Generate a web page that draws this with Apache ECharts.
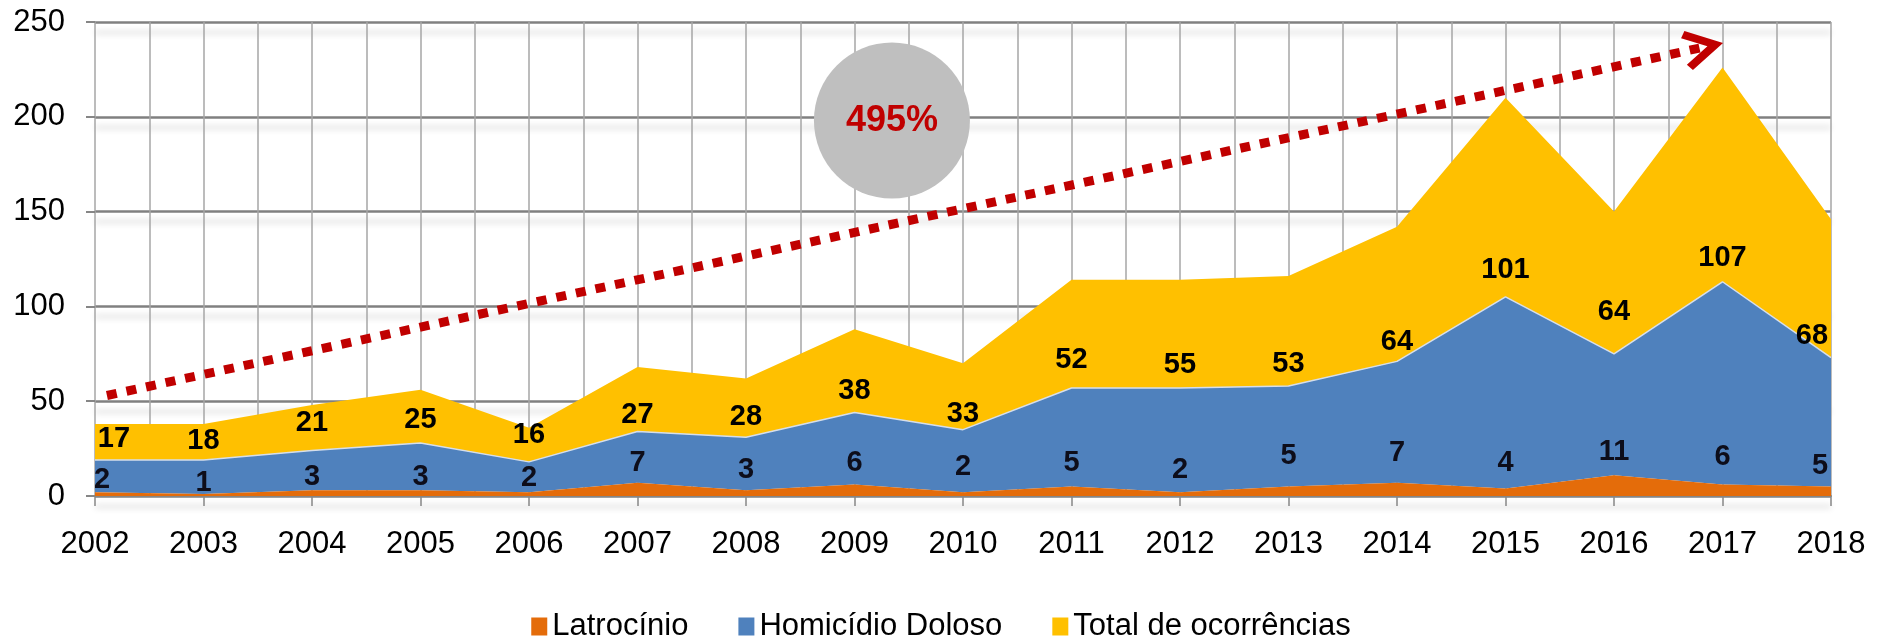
<!DOCTYPE html>
<html>
<head>
<meta charset="utf-8">
<script src="https://cdn.jsdelivr.net/npm/echarts@6/dist/echarts.min.js"></script>
<style>
html,body{margin:0;padding:0;background:#fff;}
#chart{width:1882px;height:639px;}
</style>
</head>
<body>
<div id="chart"></div>
<script>
// ---- data ----
var years = ['2002','2003','2004','2005','2006','2007','2008','2009','2010','2011','2012','2013','2014','2015','2016','2017','2018'];
var latrocinio = [2,1,3,3,2,7,3,6,2,5,2,5,7,4,11,6,5];
var homicidio = [17,18,21,25,16,27,28,38,33,52,55,53,64,101,64,107,68];
var totalOcorrencias = [19,19,24,28,18,34,31,44,35,57,57,58,71,105,75,113,73];
var yTicks = [0,50,100,150,200,250];
var seriesNames = ['Latrocínio','Homicídio Doloso','Total de ocorrências'];
// annotation positions, in half-year units (0 = 2002, 32 = 2018) and y values
var arrowStart = [0.22, 53];
var arrowEnd = [29.65, 236.7];
var bubblePos = [14.69, 198];
var bubbleText = '495%';

// ---- styling ----
var FONT = "'Liberation Sans', Arial, sans-serif";
var COLORS = ['#E46C0A', '#4F81BD', '#FFC000'];
// vertical nudges of the value labels (pixels, negative = up), as placed in the original
var latNudge = [8, 9, 7, 7, 6, 0, 0, -2, -5, -4, -2, -11, -10, -5, -3, -8, -1];
var homNudge = [0, 2, -7, -2, -6, 4, 0, -1, 5, -7, -2, -2, 1, -6, -21, -3, -1];
var latEdgeX = [7, -11];
var homEdgeX = [19, -19];

function withLabelOffsets(arr, nudge, edgeX) {
  return arr.map(function (v, i) {
    var dx = 0;
    if (i === 0) dx = edgeX[0];
    if (i === arr.length - 1) dx = edgeX[1];
    return { value: v, label: { offset: [dx, nudge[i]] } };
  });
}

var chart = echarts.init(document.getElementById('chart'), null, { renderer: 'canvas' });
var option = {
  animation: false,
  backgroundColor: '#ffffff',
  grid: { left: 95, right: 51, top: 22, bottom: 143, containLabel: false },
  legend: {
    data: seriesNames,
    left: 'center',
    top: 606,
    icon: 'rect',
    itemWidth: 16,
    itemHeight: 18,
    itemGap: 50,
    textStyle: { fontFamily: FONT, fontSize: 31, color: '#000' }
  },
  xAxis: [
    {
      type: 'category',
      data: years,
      boundaryGap: false,
      axisLine: { show: true, lineStyle: { color: '#868686', width: 2 } },
      axisTick: { show: true, length: 10, lineStyle: { color: '#868686', width: 1.5 } },
      axisLabel: { fontFamily: FONT, fontSize: 31, color: '#000', margin: 33 },
      splitLine: { show: false }
    },
    {
      type: 'value',
      min: 0, max: 32, interval: 1,
      position: 'bottom',
      axisLine: { show: false },
      axisTick: { show: false },
      axisLabel: { show: false },
      splitLine: { show: true, lineStyle: { color: '#a6a6a6', width: 1.5 } }
    }
  ],
  yAxis: {
    type: 'value',
    min: yTicks[0], max: yTicks[yTicks.length - 1], interval: 50,
    axisLine: { show: false },
    axisTick: { show: true, length: 9, lineStyle: { color: '#868686', width: 2 } },
    axisLabel: { fontFamily: FONT, fontSize: 31, color: '#000', margin: 30 },
    splitLine: {
      show: true,
      lineStyle: { color: '#808080', width: 2.5, shadowColor: 'rgba(0,0,0,0.18)', shadowBlur: 6, shadowOffsetY: 10 }
    }
  },
  series: [
    {
      name: seriesNames[0], type: 'line', stack: 'all', z: 5,
      data: withLabelOffsets(latrocinio, latNudge, latEdgeX),
      symbol: 'circle', symbolSize: 0, showSymbol: true,
      itemStyle: { color: COLORS[0] },
      lineStyle: { width: 0 },
      areaStyle: { color: COLORS[0], opacity: 1 },
      label: { show: true, position: 'top', distance: 5.5, fontFamily: FONT, fontSize: 29, fontWeight: 'bold', color: '#0d0d1a' }
    },
    {
      name: seriesNames[1], type: 'line', stack: 'all', z: 4,
      data: withLabelOffsets(homicidio, homNudge, homEdgeX),
      symbol: 'circle', symbolSize: 0, showSymbol: true,
      itemStyle: { color: COLORS[1] },
      lineStyle: { width: 1.5, color: '#d6deea' },
      areaStyle: { color: COLORS[1], opacity: 1 },
      label: { show: true, position: 'top', distance: 6, fontFamily: FONT, fontSize: 29, fontWeight: 'bold', color: '#000' }
    },
    {
      name: seriesNames[2], type: 'line', stack: 'all', z: 2,
      data: totalOcorrencias,
      symbol: 'none', showSymbol: false,
      itemStyle: { color: COLORS[2] },
      lineStyle: { width: 0 },
      areaStyle: { color: COLORS[2], opacity: 1 },
      label: { show: false }
    },
    {
      name: 'annot', type: 'line', xAxisIndex: 1, z: 10,
      data: [],
      silent: true,
      markLine: {
        silent: true,
        symbol: ['none', 'path://M50,0 L100,88 L84,100 L50,40 L16,100 L0,88 Z'],
        symbolSize: 40,
        label: { show: false },
        lineStyle: { color: '#C00000', width: 9, type: [10, 10], cap: 'butt', opacity: 1 },
        itemStyle: { color: '#C00000' },
        data: [[{ coord: arrowStart }, { coord: arrowEnd }]]
      },
      markPoint: {
        silent: true,
        symbol: 'circle',
        symbolSize: 156,
        itemStyle: { color: '#BFBFBF' },
        label: { show: true, position: 'inside', formatter: bubbleText, fontFamily: FONT, fontSize: 36, fontWeight: 'bold', color: '#C00000' },
        data: [{ coord: bubblePos }]
      }
    }
  ]
};
chart.setOption(option);
</script>
</body>
</html>
